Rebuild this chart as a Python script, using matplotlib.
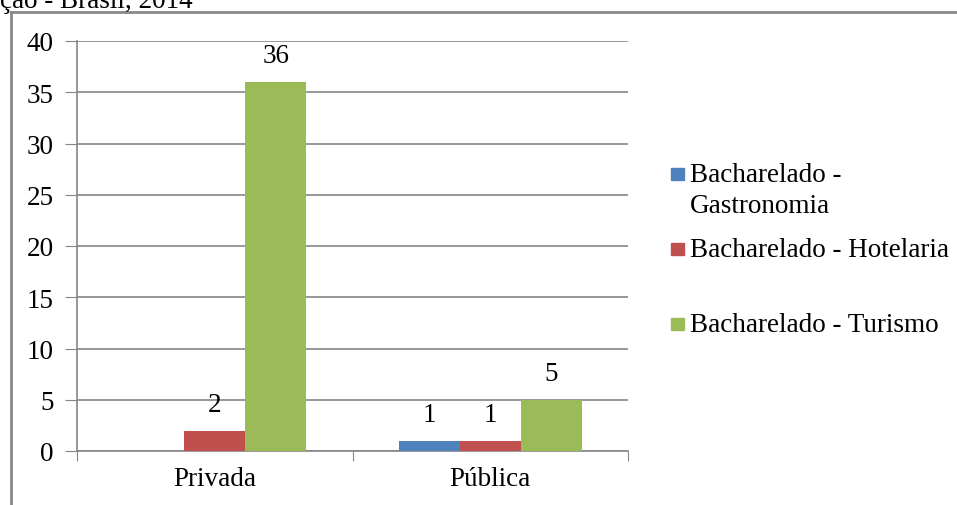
import numpy as np
import matplotlib.pyplot as plt
from matplotlib.lines import Line2D
from matplotlib.patches import Rectangle

plt.rcParams['font.family'] = ['Liberation Serif', 'DejaVu Serif']

categorias = ["Privada", "Pública"]
series = ["Bacharelado - Gastronomia", "Bacharelado - Hotelaria", "Bacharelado - Turismo"]
legenda = ["Bacharelado -\nGastronomia", "Bacharelado - Hotelaria", "Bacharelado - Turismo"]
valores = [
    [0, 1],
    [2, 1],
    [36, 5],
]
cores = ["#4F81BD", "#C0504D", "#9BBB59"]
yticks = [0, 5, 10, 15, 20, 25, 30, 35, 40]
titulo = "ção - Brasil, 2014"

W, H = 957, 506
fs = 19.5
fig = plt.figure(figsize=(W / 100, H / 100), dpi=100)
ax = fig.add_axes([77 / W, 1 - 452 / H, (628 - 77) / W, (452 - 42) / H])

cinza = "#868686"
x = np.arange(len(categorias)) + 0.5
largura = 0.222
for i, (s, v, c) in enumerate(zip(series, valores, cores)):
    pos = x + (i - 1) * largura
    ax.bar(pos, v, largura, color=c, zorder=3)
    for p, val in zip(pos, v):
        if val > 0:
            ax.annotate(str(val), (p, val), xytext=(0, 10), textcoords="offset points",
                        ha="center", va="bottom", fontsize=fs)

ax.set_xlim(0, len(categorias))
ax.set_ylim(0, 40)
ax.set_yticks(yticks)
ax.set_xticks(np.arange(len(categorias) + 1))
ax.set_xticklabels([])
ax.set_xticks(x, minor=True)
ax.set_xticklabels(categorias, minor=True, fontsize=fs)
ax.tick_params(axis="x", which="minor", length=0, pad=11)
ax.tick_params(axis="x", which="major", length=7, color=cinza, direction="out")
ax.tick_params(axis="y", length=9, color=cinza, labelsize=fs, pad=8)
ax.yaxis.grid(True, color=cinza, linewidth=1.2, zorder=0)
for lado in ["top", "right"]:
    ax.spines[lado].set_visible(False)
for lado in ["left", "bottom"]:
    ax.spines[lado].set_color(cinza)
    ax.spines[lado].set_linewidth(1.2)

# legenda desenhada a mao para imitar o espacamento do Excel
leg_y = [182, 257, 332]
for txt, c, yy in zip(legenda, cores, leg_y):
    fig.add_artist(Rectangle((671 / W, 1 - (yy - 1) / H), 13 / W, 12 / H,
                             transform=fig.transFigure, color=c))
    fig.text(690 / W, 1 - yy / H, txt.split("\n")[0], fontsize=fs, va="baseline", ha="left")
    if "\n" in txt:
        fig.text(690 / W, 1 - (yy + 31) / H, txt.split("\n")[1], fontsize=fs,
                 va="baseline", ha="left")

# moldura do grafico
fig.add_artist(Line2D([11 / W, 11 / W], [0, 1 - 13 / H], color="#8a8a8a", linewidth=2,
                      transform=fig.transFigure))
fig.add_artist(Line2D([11 / W, 1], [1 - 13 / H, 1 - 13 / H], color="#8a8a8a", linewidth=2,
                      transform=fig.transFigure))
fig.text(0, 1 - 8 / H, titulo, fontsize=fs, va="baseline", ha="left")

fig.savefig("out.png", dpi=100)
